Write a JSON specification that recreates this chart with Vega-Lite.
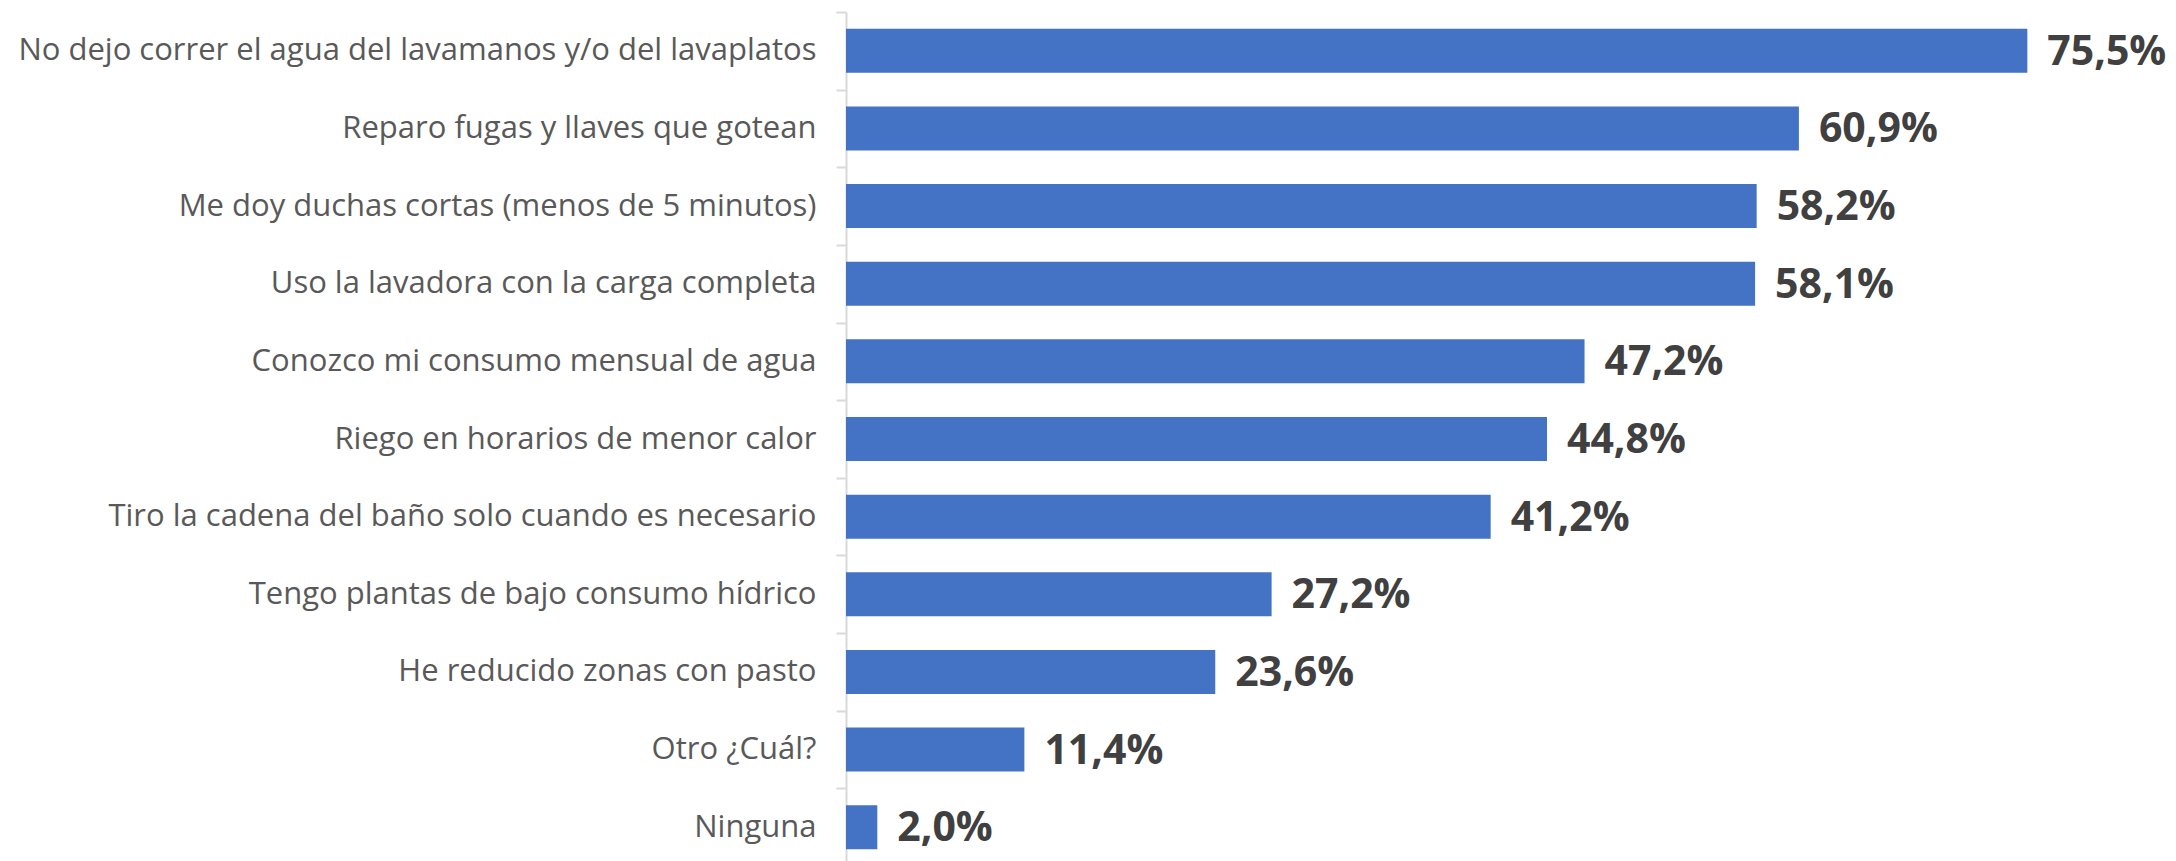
{
  "$schema": "https://vega.github.io/schema/vega-lite/v6.json",
  "width": 1330,
  "height": 854,
  "autosize": {"type": "none"},
  "padding": {"left": 846, "top": 12, "right": 0, "bottom": 0},
  "background": "#ffffff",
  "data": {"values": [
    {"accion": "No dejo correr el agua del lavamanos y/o del lavaplatos", "pct": 75.5, "etiqueta": "75,5%"},
    {"accion": "Reparo fugas y llaves que gotean", "pct": 60.9, "etiqueta": "60,9%"},
    {"accion": "Me doy duchas cortas (menos de 5 minutos)", "pct": 58.2, "etiqueta": "58,2%"},
    {"accion": "Uso la lavadora con la carga completa", "pct": 58.1, "etiqueta": "58,1%"},
    {"accion": "Conozco mi consumo mensual de agua", "pct": 47.2, "etiqueta": "47,2%"},
    {"accion": "Riego en horarios de menor calor", "pct": 44.8, "etiqueta": "44,8%"},
    {"accion": "Tiro la cadena del baño solo cuando es necesario", "pct": 41.2, "etiqueta": "41,2%"},
    {"accion": "Tengo plantas de bajo consumo hídrico", "pct": 27.2, "etiqueta": "27,2%"},
    {"accion": "He reducido zonas con pasto", "pct": 23.6, "etiqueta": "23,6%"},
    {"accion": "Otro ¿Cuál?", "pct": 11.4, "etiqueta": "11,4%"},
    {"accion": "Ninguna", "pct": 2.0, "etiqueta": "2,0%"}
  ]},
  "encoding": {
    "y": {
      "field": "accion", "type": "nominal", "sort": null, "title": null,
      "scale": {"paddingInner": 0, "paddingOuter": 0},
      "axis": {
        "labelFont": "Open Sans", "labelFontSize": 31, "labelColor": "#595959",
        "labelLimit": 0, "labelPadding": 20,
        "domainColor": "#d9d9d9", "domainWidth": 2,
        "tickColor": "#d9d9d9", "tickWidth": 2, "tickSize": 10,
        "tickBand": "extent"
      }
    },
    "x": {
      "field": "pct", "type": "quantitative", "title": null,
      "scale": {"domain": [0, 85], "nice": false},
      "axis": null
    }
  },
  "layer": [
    {"mark": {"type": "bar", "color": "#4472C4", "height": {"band": 0.567}}},
    {"mark": {"type": "text", "align": "left", "baseline": "middle", "dx": 20, "dy": 2, "font": "Open Sans", "fontWeight": "bold", "fontSize": 41, "color": "#404040"},
     "encoding": {"text": {"field": "etiqueta"}}}
  ],
  "config": {"view": {"stroke": null}}
}
